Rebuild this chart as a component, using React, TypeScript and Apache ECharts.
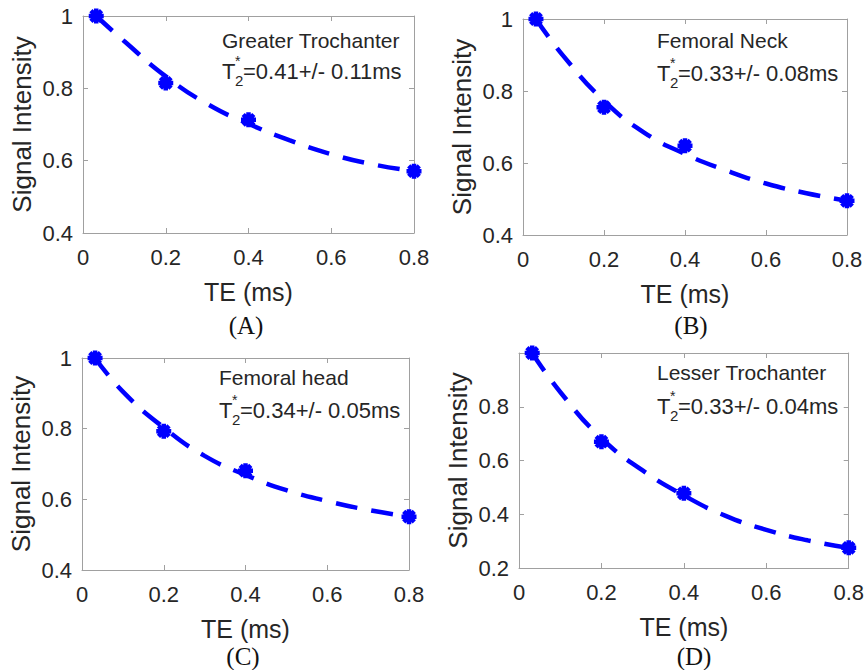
import React, { useEffect, useRef } from 'react';
import * as echarts from 'echarts';

// ---- data ----
const TE_POINTS = [0.032, 0.2, 0.4, 0.8];
const FIT_TE = [0.032, 0.1, 0.2, 0.3, 0.4, 0.5, 0.6, 0.7, 0.8];

const A_POINTS = [1.0, 0.815, 0.713, 0.571];
const B_POINTS = [1.0, 0.755, 0.648, 0.495];
const C_POINTS = [1.0, 0.793, 0.681, 0.551];
const D_POINTS = [1.0, 0.67, 0.478, 0.275];

const A_FIT = [1.0, 0.93, 0.833, 0.757, 0.702, 0.656, 0.618, 0.59, 0.571];
const B_FIT = [1.0, 0.897, 0.773, 0.684, 0.625, 0.58, 0.543, 0.516, 0.495];
const C_FIT = [1.0, 0.905, 0.803, 0.723, 0.669, 0.626, 0.595, 0.57, 0.551];
const D_FIT = [1.0, 0.855, 0.683, 0.563, 0.47, 0.395, 0.342, 0.303, 0.275];

const REGIONS = ['Greater Trochanter', 'Femoral Neck', 'Femoral head', 'Lesser Trochanter'];
const T2_TEXT = ['=0.41+/- 0.11ms', '=0.33+/- 0.08ms', '=0.34+/- 0.05ms', '=0.33+/- 0.04ms'];
const CAPTIONS = ['(A)', '(B)', '(C)', '(D)'];
const Y_MINS = [0.4, 0.4, 0.4, 0.2];
const Y_MAX = 1;
const Y_STEP = 0.2;
const X_MIN = 0;
const X_MAX = 0.8;
const X_STEP = 0.2;
const X_NAME = 'TE (ms)';
const Y_NAME = 'Signal Intensity';

const POINTS = [A_POINTS, B_POINTS, C_POINTS, D_POINTS];
const FITS = [A_FIT, B_FIT, C_FIT, D_FIT];

// ---- layout ----
const GRIDS = [
  { left: 83, top: 16, width: 331, height: 217 },
  { left: 523, top: 19, width: 324, height: 216 },
  { left: 82, top: 358, width: 327, height: 212 },
  { left: 519, top: 353, width: 331, height: 215 },
];
const NOTES = [
  { x: 222, y1: 40, y2: 71 },
  { x: 657, y1: 40, y2: 73 },
  { x: 219, y1: 377, y2: 410 },
  { x: 657, y1: 372, y2: 406 },
];
const CAPTION_POS = [
  { x: 246, y: 325 },
  { x: 691, y: 325 },
  { x: 243, y: 656 },
  { x: 694, y: 656 },
];

const SANS = '"Liberation Sans", Arial, Helvetica, sans-serif';
const SERIF = '"Liberation Serif", "Times New Roman", serif';
const TEXT = '#262626';
const BOX = '#a0a0a0';
const BLUE = '#0000ff';
const ASTERISK =
  'path://M0,-10L0,10M-10,0L10,0M-7.07,-7.07L7.07,7.07M-7.07,7.07L7.07,-7.07';

function txt(x: number, y: number, text: string, font: string, align = 'left', fill = TEXT) {
  return {
    type: 'text',
    x,
    y,
    style: {
      text,
      font,
      fill,
      textAlign: align,
      textVerticalAlign: 'middle',
      align,
      verticalAlign: 'middle',
    },
  };
}

function buildOption() {
  const grid: any[] = [];
  const xAxis: any[] = [];
  const yAxis: any[] = [];
  const series: any[] = [];
  const graphic: any[] = [];

  GRIDS.forEach((g, i) => {
    grid.push({ ...g, containLabel: false });
    const tick = { show: true, inside: true, length: 5, lineStyle: { color: BOX, width: 1 } };
    const line = { show: true, onZero: false, lineStyle: { color: BOX, width: 1 } };
    xAxis.push({
      type: 'value',
      gridIndex: i,
      min: X_MIN,
      max: X_MAX,
      interval: X_STEP,
      axisLine: line,
      axisTick: tick,
      splitLine: { show: false },
      axisLabel: { color: TEXT, fontSize: 22, fontFamily: SANS, margin: 13 },
      name: X_NAME,
      nameLocation: 'middle',
      nameGap: 46,
      nameTextStyle: { color: TEXT, fontSize: 25, fontFamily: SANS },
    });
    xAxis.push({
      type: 'value',
      gridIndex: i,
      position: 'top',
      min: X_MIN,
      max: X_MAX,
      interval: X_STEP,
      axisLine: line,
      axisTick: tick,
      splitLine: { show: false },
      axisLabel: { show: false },
    });
    yAxis.push({
      type: 'value',
      gridIndex: i,
      min: Y_MINS[i],
      max: Y_MAX,
      interval: Y_STEP,
      axisLine: line,
      axisTick: tick,
      splitLine: { show: false },
      axisLabel: {
        color: TEXT,
        fontSize: 22,
        fontFamily: SANS,
        margin: 10,
        showMaxLabel: i !== 3,
      },
      name: Y_NAME,
      nameLocation: 'middle',
      nameGap: 48,
      nameTextStyle: { color: TEXT, fontSize: 26, fontFamily: SANS },
    });
    yAxis.push({
      type: 'value',
      gridIndex: i,
      position: 'right',
      min: Y_MINS[i],
      max: Y_MAX,
      interval: Y_STEP,
      axisLine: line,
      axisTick: tick,
      splitLine: { show: false },
      axisLabel: { show: false },
    });

    series.push({
      type: 'line',
      xAxisIndex: i * 2,
      yAxisIndex: i * 2,
      data: FIT_TE.map((x, k) => [x, FITS[i][k]]),
      smooth: true,
      symbol: 'none',
      showSymbol: false,
      clip: false,
      lineStyle: { color: BLUE, width: 4.5, type: [22, 14] },
      z: 2,
    });
    series.push({
      type: 'scatter',
      xAxisIndex: i * 2,
      yAxisIndex: i * 2,
      data: TE_POINTS.map((x, k) => [x, POINTS[i][k]]),
      symbol: ASTERISK,
      symbolSize: 15,
      clip: false,
      itemStyle: { color: BLUE, borderColor: BLUE, borderWidth: 4.5, opacity: 1 },
      z: 3,
    });

    const n = NOTES[i];
    graphic.push(txt(n.x, n.y1, REGIONS[i], `21px ${SANS}`));
    graphic.push(txt(n.x, n.y2, 'T', `22px ${SANS}`));
    graphic.push(txt(n.x + 13, n.y2 - 10, '*', `14px ${SANS}`));
    graphic.push(txt(n.x + 13, n.y2 + 9, '2', `15px ${SANS}`));
    graphic.push(txt(n.x + 21, n.y2, T2_TEXT[i], `22px ${SANS}`));
    const c = CAPTION_POS[i];
    graphic.push(txt(c.x, c.y, CAPTIONS[i], `25px ${SERIF}`, 'center', '#111'));
  });

  return {
    animation: false,
    backgroundColor: '#ffffff',
    grid,
    xAxis,
    yAxis,
    series,
    graphic,
  };
}

export default function App() {
  const ref = useRef<HTMLDivElement>(null);
  useEffect(() => {
    if (!ref.current) return;
    const chart = echarts.init(ref.current, null, { renderer: 'svg' });
    chart.setOption(buildOption() as any);
    return () => chart.dispose();
  }, []);
  return (
    <div
      ref={ref}
      style={{ position: 'fixed', left: 0, top: 0, width: 867, height: 670, background: '#fff' }}
    />
  );
}
